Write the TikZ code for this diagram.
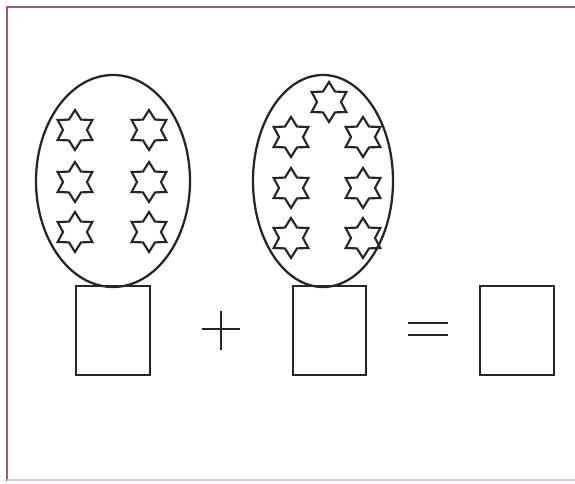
\documentclass[tikz,border=0pt]{standalone}
\usetikzlibrary{shapes.geometric}
\definecolor{framec}{RGB}{168,88,120}
\tikzset{
  egg/.style={draw=black!85, line width=1.7pt},
  answerbox/.style={draw=black!85, line width=1.7pt},
  sign/.style={draw=black!85, line width=2pt},
  hexstar/.pic={
    \draw[black!85, line width=1.6pt, line join=miter]
      (90:20) -- (120:12) -- (150:20) -- (180:12) -- (210:20) -- (240:12)
      -- (270:20) -- (300:12) -- (330:20) -- (0:12) -- (30:20) -- (60:12) -- cycle;
  }
}
\begin{document}
\begin{tikzpicture}[x=0.75pt,y=-0.75pt]
\useasboundingbox (0,0) rectangle (575,484);
\fill[white] (0,0) rectangle (575,484);
% frame
\draw[framec, line width=1.8pt] (7,481) -- (7,7) -- (575,7);
\draw[framec!35, line width=1pt] (7,480) -- (575,480);
% eggs
\draw[egg] (113,181) ellipse [x radius=77, y radius=106];
\draw[egg] (323,181) ellipse [x radius=70, y radius=106];
% stars egg 1
\foreach \x in {75,149}{
  \foreach \y in {130,182,232}{
    \pic at (\x,\y) {hexstar};
  }
}
% stars egg 2
\pic at (329,102) {hexstar};
\foreach \x in {291,363}{
  \foreach \y in {137,188,238}{
    \pic at (\x,\y) {hexstar};
  }
}
% boxes
\draw[answerbox] (76,286) rectangle (150,375);
\draw[answerbox] (293,286) rectangle (366,375);
\draw[answerbox] (480,286) rectangle (554,375);
% plus
\draw[sign] (202,329) -- (240,329);
\draw[sign] (221,311) -- (221,350);
% equals
\draw[sign] (408,323) -- (448,323);
\draw[sign] (408,335) -- (448,335);
\end{tikzpicture}
\end{document}
